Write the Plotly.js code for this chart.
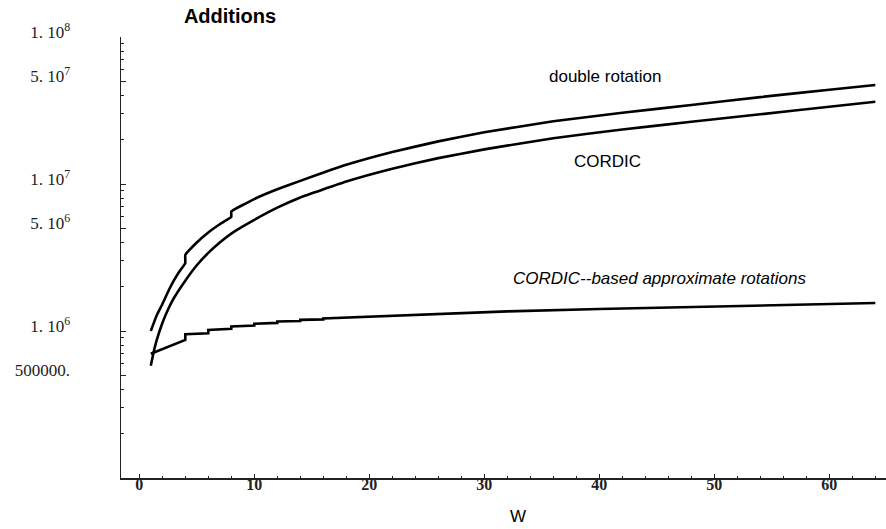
<!DOCTYPE html>
<html>
<head>
<meta charset="utf-8">
<script src="https://cdn.plot.ly/plotly-3.0.1.min.js"></script>
<style>html,body{margin:0;padding:0;background:#fff;}#chart{width:886px;height:529px;}</style>
</head>
<body>
<div id="chart"></div>
<script>
// Double rotation
const wDouble = [1, 1.5, 2, 2.5, 3, 3.5, 4, 4, 5, 6, 7, 8, 8, 10, 12, 14, 18, 22, 26, 30, 36, 42, 48, 54, 60, 64];
const addDouble = [1.0e6, 1.27e6, 1.52e6, 1.85e6, 2.2e6, 2.55e6, 2.9e6, 3.29e6, 4.0e6, 4.68e6, 5.32e6, 5.97e6, 6.5e6, 7.9e6, 9.2e6, 1.05e7, 1.35e7, 1.65e7, 1.95e7, 2.25e7, 2.67e7, 3.05e7, 3.45e7, 3.9e7, 4.38e7, 4.71e7];
// CORDIC
const wCordic = [1, 1.25, 1.5, 2, 2.5, 3, 4, 5, 6, 7, 8, 10, 12, 14, 18, 22, 26, 30, 36, 42, 48, 54, 60, 64];
const addCordic = [5.8e5, 7.2e5, 8.6e5, 1.13e6, 1.4e6, 1.67e6, 2.2e6, 2.8e6, 3.4e6, 4.0e6, 4.6e6, 5.7e6, 6.9e6, 8.1e6, 1.04e7, 1.27e7, 1.5e7, 1.72e7, 2.05e7, 2.35e7, 2.65e7, 2.98e7, 3.35e7, 3.63e7];
// CORDIC-based approximate rotations
const wApprox = [1, 4, 4, 6, 6, 8, 8, 10, 10, 12, 12, 14, 14, 16, 16, 20, 24, 28, 32, 40, 48, 56, 64];
const addApprox = [7.0e5, 8.7e5, 9.5e5, 9.65e5, 1.015e6, 1.035e6, 1.075e6, 1.09e6, 1.12e6, 1.135e6, 1.16e6, 1.17e6, 1.19e6, 1.2e6, 1.215e6, 1.25e6, 1.29e6, 1.33e6, 1.36e6, 1.41e6, 1.46e6, 1.5e6, 1.55e6];

const yTickVals = [1e8, 5e7, 1e7, 5e6, 1e6, 5e5];
const yTickText = ["1. 10<sup>8</sup>", "5. 10<sup>7</sup>", "1. 10<sup>7</sup>", "5. 10<sup>6</sup>", "1. 10<sup>6</sup>", "500000."];
const xTickVals = [0, 10, 20, 30, 40, 50, 60];
const xTickText = ['<b>0</b>','<b>10</b>','<b>20</b>','<b>30</b>','<b>40</b>','<b>50</b>','<b>60</b>'];
const yMinorVals = [];
[1e5, 1e6, 1e7].forEach(d => [2,3,4,6,7,8,9].forEach(m => yMinorVals.push(m * d)));

const lineStyle = {color: '#000', width: 2.6, shape: 'spline', smoothing: 0.3};
const traces = [
  {x: wDouble, y: addDouble, mode: 'lines', line: lineStyle, name: 'double rotation'},
  {x: wCordic, y: addCordic, mode: 'lines', line: lineStyle, name: 'CORDIC'},
  {x: wApprox, y: addApprox, mode: 'lines', line: {color: '#000', width: 2.6}, name: 'CORDIC--based approximate rotations'}
];

const layout = {
  width: 886, height: 529,
  margin: {l: 121, r: 0, t: 37, b: 51, pad: 0},
  paper_bgcolor: '#fff', plot_bgcolor: '#fff',
  showlegend: false,
  title: {text: '<b>Additions</b>', x: 230/886, xanchor: 'center', y: 1 - 16/529, yanchor: 'middle',
          font: {family: 'Liberation Sans, Arial, sans-serif', size: 20, color: '#000'}},
  xaxis: {
    range: [-1.59, 64.93], showgrid: false, zeroline: false,
    showline: true, linecolor: '#222', linewidth: 1.5,
    tickmode: 'array', tickvals: xTickVals, ticktext: xTickText,
    ticks: 'inside', ticklen: 4, tickwidth: 1, tickcolor: '#222',
    ticklabelstandoff: -9,
    tickfont: {family: 'Liberation Serif, Times New Roman, serif', size: 16, color: '#222'},
    minor: {dtick: 2, tick0: 0, ticks: 'inside', ticklen: 2.5, tickwidth: 1, tickcolor: '#222', showgrid: false}
  },
  yaxis: {
    type: 'log', range: [5, 8], showgrid: false, zeroline: false,
    showline: true, linecolor: '#222', linewidth: 1.5,
    tickmode: 'array', tickvals: yTickVals, ticktext: yTickText,
    ticks: 'inside', ticklen: 5, tickwidth: 1, tickcolor: '#222',
    ticklabelstandoff: 46, ticklabelshift: -5,
    tickfont: {family: 'Liberation Serif, Times New Roman, serif', size: 17, color: '#222'},
    minor: {tickmode: 'array', tickvals: yMinorVals, ticks: 'inside', ticklen: 3, tickwidth: 1, tickcolor: '#222', showgrid: false}
  },
  annotations: [
    {xref: 'paper', yref: 'paper', x: (518-121)/765, y: -(516-478)/441, xanchor: 'center', yanchor: 'middle', showarrow: false,
     text: 'W', font: {family: 'Liberation Sans, Arial, sans-serif', size: 17, color: '#000'}},
    {x: 40.5, y: 7.728, xanchor: 'center', yanchor: 'middle', showarrow: false,
     text: 'double rotation', font: {family: 'Liberation Sans, Arial, sans-serif', size: 17, color: '#000'}},
    {x: 40.7, y: 7.156, xanchor: 'center', yanchor: 'middle', showarrow: false,
     text: 'CORDIC', font: {family: 'Liberation Sans, Arial, sans-serif', size: 17, color: '#000'}},
    {x: 45.2, y: 6.36, xanchor: 'center', yanchor: 'middle', showarrow: false,
     text: '<i>CORDIC--based approximate rotations</i>', font: {family: 'Liberation Sans, Arial, sans-serif', size: 17, color: '#000'}}
  ]
};

Plotly.newPlot('chart', traces, layout, {displayModeBar: false, staticPlot: true});
</script>
</body>
</html>
